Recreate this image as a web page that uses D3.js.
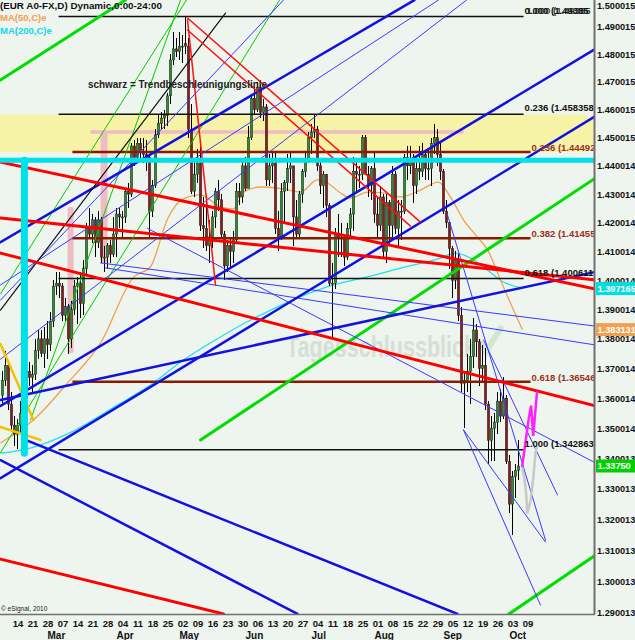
<!DOCTYPE html>
<html><head><meta charset="utf-8">
<script src="https://cdn.jsdelivr.net/npm/d3@7"></script>
<style>
body{margin:0;background:#eef4ee;}
svg{display:block;font-family:"Liberation Sans",Arial,sans-serif;}
</style></head>
<body><svg id="c" width="635" height="640"></svg>
<script>
// ---------------- DATA ----------------
// trading-day index: 0 = Mon 14 Feb 2011 (first candle = index -4, 8 Feb 2011)
const firstIndex = -4;
const opens = [1.3610,1.3660,1.3710,1.3580,1.3510,1.3480,1.3510,1.3550,1.3600,1.3690,1.3670,1.3680,1.3760,1.3800,1.3750,1.3800,1.3780,1.3860,1.3980,1.3990,1.3980,1.3880,1.3910,1.3800,1.3900,1.3980,1.3990,1.3920,1.4040,1.4180,1.4160,1.4210,1.4130,1.4210,1.4080,1.4080,1.4120,1.4090,1.4160,1.4230,1.4220,1.4220,1.4310,1.4300,1.4470,1.4430,1.4480,1.4450,1.4440,1.4430,1.4240,1.4330,1.4510,1.4550,1.4570,1.4580,1.4650,1.4780,1.4820,1.4810,1.4830,1.4840,1.4830,1.4530,1.4310,1.4370,1.4410,1.4190,1.4180,1.4120,1.4150,1.4220,1.4310,1.4280,1.4160,1.4050,1.4120,1.4100,1.4140,1.4310,1.4290,1.4400,1.4320,1.4500,1.4640,1.4600,1.4680,1.4590,1.4610,1.4350,1.4400,1.4410,1.4180,1.4150,1.4310,1.4340,1.4390,1.4400,1.4220,1.4160,1.4300,1.4380,1.4420,1.4500,1.4520,1.4530,1.4400,1.4330,1.4370,1.4260,1.3990,1.3990,1.4160,1.4150,1.4150,1.4080,1.4180,1.4230,1.4380,1.4370,1.4370,1.4500,1.4370,1.4330,1.4390,1.4230,1.4190,1.4290,1.4100,1.4270,1.4190,1.4370,1.4180,1.4240,1.4240,1.4430,1.4400,1.4420,1.4330,1.4390,1.4380,1.4440,1.4390,1.4390,1.4480,1.4500,1.4440,1.4380,1.4240,1.4200,1.4110,1.4000,1.4070,1.3880,1.3650,1.3660,1.3690,1.3740,1.3830,1.3790,1.3700,1.3710,1.3580,1.3460,1.3500,1.3520,1.3590,1.3540,1.3600,1.3390,1.3250,1.3340,1.3360];
const highs = [1.3690,1.3760,1.3720,1.3620,1.3540,1.3530,1.3590,1.3640,1.3710,1.3720,1.3710,1.3800,1.3830,1.3830,1.3840,1.3860,1.3890,1.4000,1.4030,1.4030,1.3990,1.3940,1.3920,1.3930,1.4000,1.4010,1.4030,1.4070,1.4200,1.4250,1.4230,1.4220,1.4240,1.4220,1.4120,1.4130,1.4140,1.4220,1.4250,1.4250,1.4240,1.4320,1.4340,1.4480,1.4490,1.4500,1.4500,1.4500,1.4490,1.4440,1.4350,1.4530,1.4580,1.4590,1.4600,1.4660,1.4800,1.4880,1.4860,1.4880,1.4870,1.4940,1.4860,1.4620,1.4420,1.4460,1.4470,1.4290,1.4270,1.4210,1.4240,1.4320,1.4350,1.4300,1.4170,1.4140,1.4150,1.4170,1.4340,1.4340,1.4420,1.4430,1.4540,1.4650,1.4680,1.4700,1.4690,1.4640,1.4620,1.4440,1.4450,1.4450,1.4240,1.4340,1.4350,1.4440,1.4450,1.4400,1.4280,1.4310,1.4390,1.4450,1.4520,1.4550,1.4580,1.4540,1.4420,1.4380,1.4370,1.4270,1.4060,1.4180,1.4230,1.4200,1.4160,1.4200,1.4250,1.4430,1.4420,1.4400,1.4510,1.4510,1.4400,1.4400,1.4450,1.4290,1.4330,1.4300,1.4300,1.4280,1.4400,1.4380,1.4280,1.4280,1.4440,1.4470,1.4470,1.4440,1.4420,1.4470,1.4480,1.4450,1.4460,1.4500,1.4550,1.4530,1.4480,1.4390,1.4280,1.4200,1.4120,1.4100,1.4090,1.3910,1.3690,1.3750,1.3800,1.3870,1.3850,1.3800,1.3780,1.3770,1.3590,1.3540,1.3550,1.3620,1.3630,1.3670,1.3610,1.3410,1.3360,1.3380,1.3460];
const lows = [1.3580,1.3640,1.3560,1.3490,1.3440,1.3430,1.3480,1.3530,1.3560,1.3640,1.3620,1.3660,1.3730,1.3740,1.3700,1.3730,1.3760,1.3840,1.3950,1.3940,1.3860,1.3860,1.3750,1.3770,1.3880,1.3850,1.3870,1.3880,1.4020,1.4150,1.4130,1.4080,1.4110,1.4060,1.4030,1.4040,1.4060,1.4080,1.4080,1.4180,1.4150,1.4200,1.4250,1.4290,1.4400,1.4410,1.4420,1.4410,1.4380,1.4150,1.4220,1.4320,1.4500,1.4530,1.4530,1.4540,1.4620,1.4760,1.4790,1.4780,1.4770,1.4800,1.4500,1.4300,1.4290,1.4340,1.4170,1.4110,1.4100,1.4060,1.4110,1.4180,1.4240,1.4150,1.4000,1.4030,1.4040,1.4060,1.4130,1.4260,1.4270,1.4310,1.4320,1.4490,1.4580,1.4590,1.4570,1.4560,1.4330,1.4330,1.4340,1.4160,1.4100,1.4140,1.4200,1.4310,1.4340,1.4120,1.4150,1.4150,1.4270,1.4360,1.4410,1.4440,1.4500,1.4380,1.4300,1.4250,1.4220,1.3980,1.3800,1.3970,1.4080,1.4080,1.4050,1.4070,1.4150,1.4170,1.4310,1.4320,1.4350,1.4370,1.4290,1.4280,1.4200,1.4150,1.4170,1.4080,1.4060,1.4120,1.4140,1.4160,1.4120,1.4140,1.4230,1.4350,1.4370,1.4270,1.4300,1.4350,1.4360,1.4350,1.4350,1.4330,1.4440,1.4400,1.4350,1.4230,1.4180,1.4040,1.3940,1.3970,1.3860,1.3620,1.3500,1.3620,1.3580,1.3700,1.3740,1.3640,1.3650,1.3560,1.3380,1.3390,1.3390,1.3480,1.3520,1.3530,1.3380,1.3220,1.3150,1.3270,1.3330];
const closes = [1.3660,1.3710,1.3580,1.3510,1.3480,1.3510,1.3550,1.3600,1.3690,1.3670,1.3680,1.3760,1.3800,1.3750,1.3800,1.3780,1.3860,1.3980,1.3990,1.3980,1.3880,1.3910,1.3800,1.3900,1.3980,1.3990,1.3920,1.4040,1.4180,1.4160,1.4210,1.4130,1.4210,1.4080,1.4080,1.4120,1.4090,1.4160,1.4230,1.4220,1.4220,1.4310,1.4300,1.4470,1.4430,1.4480,1.4450,1.4440,1.4430,1.4240,1.4330,1.4510,1.4550,1.4570,1.4580,1.4650,1.4780,1.4820,1.4810,1.4830,1.4830,1.4830,1.4530,1.4310,1.4370,1.4410,1.4190,1.4180,1.4120,1.4150,1.4220,1.4310,1.4280,1.4160,1.4050,1.4120,1.4100,1.4140,1.4310,1.4290,1.4400,1.4320,1.4500,1.4640,1.4600,1.4680,1.4590,1.4610,1.4350,1.4400,1.4410,1.4180,1.4150,1.4310,1.4340,1.4390,1.4400,1.4220,1.4160,1.4300,1.4380,1.4420,1.4500,1.4520,1.4530,1.4400,1.4330,1.4370,1.4260,1.3990,1.3990,1.4160,1.4150,1.4150,1.4080,1.4180,1.4230,1.4380,1.4370,1.4370,1.4500,1.4370,1.4330,1.4390,1.4230,1.4190,1.4290,1.4100,1.4270,1.4190,1.4370,1.4180,1.4240,1.4240,1.4430,1.4400,1.4420,1.4330,1.4390,1.4380,1.4440,1.4390,1.4390,1.4480,1.4500,1.4440,1.4380,1.4240,1.4200,1.4110,1.4000,1.4070,1.3880,1.3650,1.3660,1.3690,1.3740,1.3830,1.3790,1.3700,1.3710,1.3580,1.3460,1.3500,1.3520,1.3590,1.3540,1.3600,1.3390,1.3250,1.3340,1.3360,1.3375];

// moving averages: [day index, price]
const ma50 = [[-4.7,1.3451],[6.3,1.3527],[17.7,1.3651],[28.7,1.3786],[39.7,1.4011],[45.3,1.4046],[51,1.4213],[56.3,1.4283],[62,1.4297],[68.7,1.4255],[73,1.4248],[76.3,1.4307],[82,1.4325],[89.7,1.4318],[95.3,1.4307],[101,1.4350],[104.3,1.4339],[108.7,1.4304],[112,1.4286],[117.7,1.4307],[123,1.4304],[128.7,1.4290],[135.3,1.4314],[141.3,1.4342],[145.3,1.4290],[149.7,1.4209],[153.7,1.4157],[157.7,1.4105],[162,1.4001],[165.3,1.3922],[169.3,1.3831]];
const ma200 = [[-4.7,1.3417],[5.3,1.3434],[17.7,1.3481],[34.3,1.3577],[45.3,1.3644],[56.3,1.3728],[65.3,1.3786],[78.7,1.3864],[95.3,1.3943],[106.3,1.3984],[117.7,1.4012],[128.7,1.4042],[142,1.4077],[147,1.4094],[152,1.4077],[157.7,1.4035],[163,1.3994],[169.3,1.3974]];

// Fibonacci levels
const fibBlack = [{t:"0.236 (1.458358", v:1.458358},{t:"0.618 (1.400611", v:1.400611},{t:"1.000 (1.342863", v:1.342863},{t:"0.000 (1.49385", v:1.49385}];
const fibBrown = [{t:"0.236 (1.44492", v:1.44492},{t:"0.382 (1.41455", v:1.41455},{t:"0.618 (1.36546", v:1.36546}];
const fibTopOverlay = "1.000 (1.49385";
const fibBlackStart = 14.7, fibBlackEnd = 169.7, fibBrownStart = 19.3, fibBrownEnd = 172;

// trend lines [i1,p1,i2,p2]
const redThick = [[-4.67,1.4413,193.67,1.3970],[-4.67,1.4216,193.67,1.4001],[-4.67,1.4094,193.67,1.3574],[-4.67,1.3072,69.67,1.2897]];
const redThin = [[57.67,1.4933,135.33,1.4202],[57.67,1.4889,132,1.4188],[57.67,1.4926,67,1.3984]];
const blueThick = [[-4.67,1.4132,133.3,1.4999],[-4.67,1.3574,193.67,1.4820],[-4.67,1.3335,193.67,1.4577],[-4.67,1.3594,193.67,1.4029],[-4.67,1.3394,94.33,1.2897],[3.67,1.3461,147.67,1.2897]];
const blueThin = [[-4.67,1.3932,89.67,1.4999],[-4.67,1.3984,141.3,1.4999],[-4.67,1.3731,150.67,1.4999],[28.67,1.4060,193.67,1.3843],[30.33,1.4043,193.67,1.3779],[44.33,1.4180,193.67,1.3385],[149.67,1.3494,177,1.3127],[149.67,1.3494,175.33,1.2925],[156.33,1.3796,181,1.3280],[144.33,1.4227,177,1.3133]];
const greenThick = [[-4.67,1.4707,37,1.4999],[62,1.3461,193.67,1.4357],[152,1.2814,193.67,1.3085]];
const greenThin = [[5.33,1.3527,55.33,1.4999],[-4.67,1.3953,57.33,1.4999],[-4.67,1.3419,88.33,1.4999]];
const blackTrend = [[-4.67,1.3898,70.33,1.4951]];
const goldLines = [[-4.67,1.3782,6.33,1.3527],[-4.67,1.3504,8.67,1.3461]];

// zones
const yellowZone = [1.4583, 1.4449];
const cyanLevel = 1.4420, cyanBar = {d:3.3, top:1.4420, bottom:1.3417};
const pinkLevel = {v:1.4520, from:25.3, to:149.7};
const pinkBars = [[28.7,31,1.4520,1.4060],[17.7,19.7,1.4255,1.3752]];

// projections
const pinkProj = [[169.2,1.3372],[171.4,1.3531],[172.2,1.3575],[172.9,1.3474],[174.2,1.3623]];
const greyProj = [[169.2,1.3372],[170.0,1.3333],[170.6,1.3279],[170.9,1.3220],[172.0,1.3260],[172.9,1.3333],[173.7,1.3421],[174.2,1.3441]];

// axes
const yTickLabels = ["1.500015","1.490015","1.480015","1.470015","1.460015","1.450015","1.440014","1.430014","1.420014","1.410014","1.400014","1.390014","1.380014","1.370014","1.360014","1.350014","1.340013","1.330013","1.320013","1.310013","1.300013","1.290013"];
const weekLabels = ["14","21","28","07","14","21","28","04","11","18","25","02","09","16","23","30","06","13","20","27","04","11","18","25","01","08","15","22","29","05","12","19","26","03","09"];
const weekIdx = d3.range(0, 170, 5).concat([170]);
const monthLabels = ["Mar","Apr","May","Jun","Jul","Aug","Sep","Oct"];
const monthIdx = [11,34,55,77,99,120,143,165];
const lastValues = [{t:"1.397165", v:1.397165, c:"#00dede"},{t:"1.383131", v:1.383131, c:"#f0a050"},{t:"1.33750", v:1.3375, c:"#00d000"}];
const watermark = "Tagesschlussblick";

// ---------------- SCALES ----------------
const W = 635, H = 640, plotR = 594, plotB = 614;
const x = d3.scaleLinear().domain([0, 170]).range([14.5, 524.5]);
const y = d3.scaleLog().domain([1.29, 1.49]).range([613, 27]);

const svg = d3.select("#c");
svg.append("rect").attr("width", W).attr("height", H).attr("fill", "#eef4ee");
svg.append("clipPath").attr("id","clip").append("rect").attr("x",0).attr("y",0).attr("width",plotR).attr("height",plotB);
const g = svg.append("g").attr("clip-path","url(#clip)");

g.append("rect").attr("x",-10).attr("y",y(yellowZone[0])).attr("width",plotR+10)
  .attr("height",y(yellowZone[1])-y(yellowZone[0])).attr("rx",12).attr("fill","#f7f3a6");
g.append("line").attr("x1",x(pinkLevel.from)).attr("x2",x(pinkLevel.to)).attr("y1",y(pinkLevel.v)).attr("y2",y(pinkLevel.v))
  .attr("stroke","#f0bcc4").attr("stroke-width",3.5);
g.selectAll("rect.pb").data(pinkBars).join("rect").attr("class","pb")
  .attr("x",d=>x(d[0])).attr("width",d=>x(d[1])-x(d[0])).attr("y",d=>y(d[2])).attr("height",d=>y(d[3])-y(d[2]))
  .attr("fill","#f0bcc4").attr("rx",2);

// watermark
g.append("text").attr("x",286).attr("y",357).text(watermark).attr("font-size",30).attr("font-weight","bold")
  .attr("fill","#d6dfd6").attr("textLength",190).attr("lengthAdjust","spacingAndGlyphs");
g.append("path").attr("d","M478,340 L486,352 L502,326").attr("fill","none").attr("stroke","#d3e6d3").attr("stroke-width",6);

const ln = d3.line().x(d=>x(d[0])).y(d=>y(d[1])).curve(d3.curveMonotoneX);
g.append("path").attr("d",ln(ma200)).attr("fill","none").attr("stroke","#20e0f0").attr("stroke-width",1.3);
g.append("path").attr("d",ln(ma50)).attr("fill","none").attr("stroke","#f0a050").attr("stroke-width",1.3);

const candles = closes.map((c,k)=>({d:firstIndex+k,o:opens[k],h:highs[k],l:lows[k],c}));
g.selectAll("line.wick").data(candles).join("line").attr("class","wick")
  .attr("x1",d=>x(d.d)).attr("x2",d=>x(d.d)).attr("y1",d=>y(d.h)).attr("y2",d=>y(d.l))
  .attr("stroke","#000").attr("stroke-width",1).attr("shape-rendering","crispEdges");
g.selectAll("rect.body").data(candles).join("rect").attr("class","body")
  .attr("x",d=>x(d.d)-1.2).attr("width",2.4)
  .attr("y",d=>y(Math.max(d.o,d.c))).attr("height",d=>Math.max(1,Math.abs(y(d.o)-y(d.c))))
  .attr("fill",d=>d.c>=d.o?"#2f8f2f":"#8c1c1c").attr("stroke","#222").attr("stroke-width",0.5);

function seg(data, color, w, cls){
  g.selectAll("line."+cls).data(data).join("line").attr("class",cls)
   .attr("x1",d=>x(d[0])).attr("y1",d=>y(d[1])).attr("x2",d=>x(d[2])).attr("y2",d=>y(d[3]))
   .attr("stroke",color).attr("stroke-width",w).attr("stroke-linecap","round");
}
g.selectAll("line.fb").data(fibBlack).join("line").attr("class","fb")
  .attr("x1",x(fibBlackStart)).attr("x2",x(fibBlackEnd)).attr("y1",d=>y(d.v)).attr("y2",d=>y(d.v))
  .attr("stroke","#111").attr("stroke-width",1.5);
g.selectAll("line.fr").data(fibBrown).join("line").attr("class","fr")
  .attr("x1",x(fibBrownStart)).attr("x2",x(fibBrownEnd)).attr("y1",d=>y(d.v)).attr("y2",d=>y(d.v))
  .attr("stroke","#8b1a00").attr("stroke-width",2.5);

seg(greenThin,"#00cc00",1,"gn");
seg(greenThick,"#00dd00",3,"gt");
seg(blueThin,"#3a3aff",1,"bn");
seg(blueThick,"#1212e0",2.5,"bt");
seg(blackTrend,"#111",1.2,"bk");
seg(redThin,"#ff1010",1.5,"rn");
seg(redThick,"#ff0000",3,"rt");
seg(goldLines,"#f2c200",2.5,"gl");

g.append("line").attr("x1",0).attr("x2",plotR).attr("y1",y(cyanLevel)).attr("y2",y(cyanLevel))
  .attr("stroke","#00e0e8").attr("stroke-width",5);
g.append("line").attr("x1",x(cyanBar.d)).attr("x2",x(cyanBar.d)).attr("y1",y(cyanBar.top)).attr("y2",y(cyanBar.bottom))
  .attr("stroke","#00e0e8").attr("stroke-width",7).attr("stroke-linecap","round");

const lnL = d3.line().x(d=>x(d[0])).y(d=>y(d[1]));
g.append("path").attr("d",lnL(greyProj)).attr("fill","none").attr("stroke","#c8c8c8").attr("stroke-width",2.5);
g.append("path").attr("d",lnL(pinkProj)).attr("fill","none").attr("stroke","#ff20ff").attr("stroke-width",2.5);

g.selectAll("text.fbt").data(fibBlack).join("text").attr("class","fbt")
  .attr("x",x(fibBlackEnd)+1).attr("y",d=>y(d.v)-3).text(d=>d.t)
  .attr("font-size",9.5).attr("font-weight","bold").attr("fill","#111");
g.append("text").attr("x",x(fibBlackEnd)+3).attr("y",y(1.49385)-3).text(fibTopOverlay)
  .attr("font-size",9.5).attr("font-weight","bold").attr("fill","#111").attr("opacity",0.8);
g.selectAll("text.frt").data(fibBrown).join("text").attr("class","frt")
  .attr("x",x(fibBrownEnd)+1).attr("y",d=>y(d.v)-1).text(d=>d.t)
  .attr("font-size",9.5).attr("font-weight","bold").attr("fill","#993020");

svg.append("text").attr("x",88).attr("y",88).text("schwarz = Trendbeschleunigungslinie")
  .attr("font-size",10).attr("font-weight","bold").attr("fill","#222").attr("textLength",179).attr("lengthAdjust","spacingAndGlyphs");

svg.append("line").attr("x1",plotR+0.5).attr("x2",plotR+0.5).attr("y1",0).attr("y2",plotB).attr("stroke","#707070").attr("stroke-width",2);
svg.append("line").attr("x1",0).attr("x2",plotR+1).attr("y1",plotB+0.5).attr("y2",plotB+0.5).attr("stroke","#707070").attr("stroke-width",1.5);

svg.selectAll("text.yt").data(yTickLabels).join("text").attr("class","yt")
  .attr("x",597).attr("y",d=>Math.max(9,y(+d)+3.5)).text(d=>d)
  .attr("font-size",9.2).attr("font-weight","bold").attr("fill","#111");
const lv = svg.selectAll("g.lv").data(lastValues).join("g").attr("class","lv")
  .attr("transform",d=>`translate(596,${y(d.v)})`);
lv.append("rect").attr("x",0).attr("y",-6.5).attr("width",39).attr("height",13).attr("fill",d=>d.c);
lv.append("text").attr("x",1.5).attr("y",3.5).text(d=>d.t).attr("font-size",9.2).attr("font-weight","bold").attr("fill","#fff");

svg.selectAll("text.wk").data(weekLabels).join("text").attr("class","wk")
  .attr("x",(d,k)=>x(weekIdx[k])+3.5).attr("y",627).attr("text-anchor","middle").text(d=>d)
  .attr("font-size",9.5).attr("font-weight","bold").attr("fill","#111");
svg.selectAll("text.mo").data(monthLabels).join("text").attr("class","mo")
  .attr("x",(d,k)=>x(monthIdx[k])).attr("y",639).text(d=>d)
  .attr("font-size",10).attr("font-weight","bold").attr("fill","#111");
svg.append("text").attr("x",1).attr("y",611).text("© eSignal, 2010").attr("font-size",6.5).attr("fill","#222");

svg.append("text").attr("x",0).attr("y",9).text("(EUR A0-FX,D) Dynamic,0:00-24:00").attr("font-size",9.8).attr("font-weight","bold").attr("fill","#111");
svg.append("text").attr("x",0).attr("y",21).text("MA(50,C)e").attr("font-size",9.5).attr("font-weight","bold").attr("fill","#f0a050");
svg.append("text").attr("x",0).attr("y",34).text("MA(200,C)e").attr("font-size",9.5).attr("font-weight","bold").attr("fill","#10d8e8");
</script></body></html>
